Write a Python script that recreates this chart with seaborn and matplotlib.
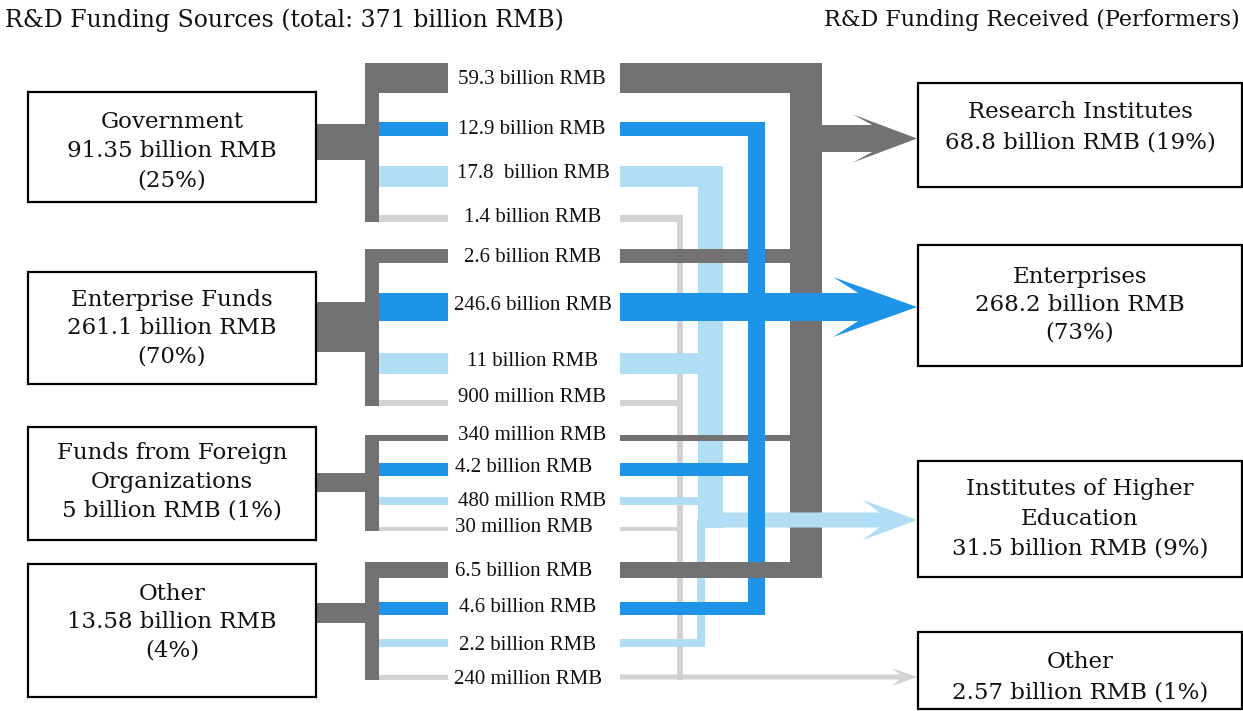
#!/usr/bin/env python3
"""
R&D funding flow diagram: sources (left) -> performers (right)
Drawn in pixel coordinates on a single full-figure axes.
"""

import matplotlib.pyplot as plt
import seaborn as sns
from matplotlib.patches import Rectangle, Polygon

sns.set_theme(style="white")
plt.rcParams['font.family'] = ['DejaVu Serif']

# ---------------------------------------------------------------- data
TITLE_LEFT = 'R&D Funding Sources (total: 371 billion RMB)'
TITLE_RIGHT = 'R&D Funding Received (Performers)'

SOURCE_LINES = [
    ['Government', '91.35 billion RMB', '(25%)'],
    ['Enterprise Funds', '261.1 billion RMB', '(70%)'],
    ['Funds from Foreign', 'Organizations', '5 billion RMB (1%)'],
    ['Other', '13.58 billion RMB', '(4%)'],
]

PERFORMER_LINES = [
    ['Research Institutes', '68.8 billion RMB (19%)'],
    ['Enterprises', '268.2 billion RMB', '(73%)'],
    ['Institutes of Higher', 'Education', '31.5 billion RMB (9%)'],
    ['Other', '2.57 billion RMB (1%)'],
]

# billion RMB, one row per source, columns = performers
FLOW_VALUES = [
    [59.3, 12.9, 17.8, 1.4],
    [2.6, 246.6, 11.0, 0.9],
    [0.34, 4.2, 0.48, 0.03],
    [6.5, 4.6, 2.2, 0.24],
]

FLOW_LABELS = [
    ['59.3 billion RMB', '12.9 billion RMB', '17.8  billion RMB', '1.4 billion RMB'],
    ['2.6 billion RMB', '246.6 billion RMB', '11 billion RMB', '900 million RMB'],
    ['340 million RMB', '4.2 billion RMB', '480 million RMB', '30 million RMB'],
    ['6.5 billion RMB', '4.6 billion RMB', '2.2 billion RMB', '240 million RMB'],
]

# ---------------------------------------------------------------- layout (px)
W, H = 1243, 711
COLORS = ['#727272', '#1e94e9', '#b2def5', '#d3d3d3']  # research, enterprise, higher-ed, other

ROW_Y = [[78, 129, 176, 218], [256, 307, 363, 403], [438, 469, 501, 529], [570, 608, 643, 677]]
ROW_H = [[30, 14, 21, 7], [14, 28, 21, 6], [6, 13, 8, 4], [16, 13, 8, 5]]
LABEL_Y = [[79, 130, 174, 217], [258, 305, 362, 398], [436, 468, 501, 527], [571, 607, 646, 679]]
LABEL_X = [[532, 532, 533, 533], [533, 533, 533, 532], [532, 524, 532, 524], [524, 528, 528, 528]]

CONN_Y = [142, 327, 482, 613]
CONN_H = [36, 50, 19, 20]

SRC_BOX_X = (28, 316)
SRC_BOX_Y = [(92, 202), (272, 384), (427, 540), (564, 697)]
SRC_TEXT_Y = [[122, 151, 180], [300, 328, 356], [453, 482, 511], [594, 622, 651]]

PERF_BOX_X = (918, 1242)
PERF_BOX_Y = [(83, 187), (245, 366), (461, 577), (632, 709)]
PERF_TEXT_Y = [[112, 142], [277, 305, 333], [489, 519, 549], [662, 692]]

BRACKET_X = (365, 379)
CONN_X = (316, 366)
BRANCH_END = 448
FLOW_START = 620
TIP_X = 917

# vertical collectors on the right, (x0, x1)
COLLECT_X = [(790, 822), (748, 765), (698, 723), (677, 683)]
HE_ARROW_Y, HE_ARROW_H = 520, 15
HE_LOWER_X = (697, 705)
RI_ARROW_Y, RI_ARROW_H = 138.5, 27

Z = {0: 3, 1: 4, 2: 2, 3: 1}

BOX_FONT = 16.5
LABEL_FONT = 15
TITLE_FONT_LEFT = 17
TITLE_FONT_RIGHT = 16


def hbar(ax, x0, x1, yc, h, color, z):
    ax.add_patch(Rectangle((x0, yc - h / 2), x1 - x0, h, facecolor=color,
                           edgecolor='none', zorder=z))


def vbar(ax, x0, x1, y0, y1, color, z):
    ax.add_patch(Rectangle((x0, y0), x1 - x0, y1 - y0, facecolor=color,
                           edgecolor='none', zorder=z))


def arrow(ax, x0, yc, h, xb, hw, color, z):
    xn = xb + 0.3 * (TIP_X - xb)
    pts = [(x0, yc - h / 2), (xn, yc - h / 2), (xb, yc - hw), (TIP_X, yc),
           (xb, yc + hw), (xn, yc + h / 2), (x0, yc + h / 2)]
    ax.add_patch(Polygon(pts, closed=True, facecolor=color, edgecolor='none', zorder=z))


def box(ax, x, y, lines, ys):
    ax.add_patch(Rectangle((x[0], y[0]), x[1] - x[0], y[1] - y[0], facecolor='white',
                           edgecolor='black', linewidth=1.6, zorder=6))
    cx = (x[0] + x[1]) / 2
    for line, ty in zip(lines, ys):
        ax.text(cx, ty, line, ha='center', va='center', fontsize=BOX_FONT,
                color='#111111', zorder=7)


def main():
    fig = plt.figure(figsize=(W / 100, H / 100), dpi=100)
    ax = fig.add_axes([0, 0, 1, 1])
    ax.set_xlim(0, W)
    ax.set_ylim(H, 0)
    ax.axis('off')

    # titles
    ax.text(5, 20, TITLE_LEFT, ha='left', va='center', fontsize=TITLE_FONT_LEFT,
            color='#111111')
    ax.text(1240, 20, TITLE_RIGHT, ha='right', va='center', fontsize=TITLE_FONT_RIGHT,
            color='#111111')

    # source boxes and brackets
    for s, lines in enumerate(SOURCE_LINES):
        box(ax, SRC_BOX_X, SRC_BOX_Y[s], lines, SRC_TEXT_Y[s])
        hbar(ax, CONN_X[0], CONN_X[1], CONN_Y[s], CONN_H[s], COLORS[0], 3)
        top = ROW_Y[s][0] - ROW_H[s][0] / 2
        bot = ROW_Y[s][3] + ROW_H[s][3] / 2
        vbar(ax, BRACKET_X[0], BRACKET_X[1], top, bot, COLORS[0], 3)
        for c in range(len(FLOW_VALUES[s])):
            x0 = BRACKET_X[0] if c == 0 else BRACKET_X[1]
            hbar(ax, x0, BRANCH_END, ROW_Y[s][c], ROW_H[s][c], COLORS[c], 3)
            ax.text(LABEL_X[s][c], LABEL_Y[s][c], FLOW_LABELS[s][c], ha='center',
                    va='center', fontsize=LABEL_FONT, family=['Liberation Serif'],
                    color='#111111')

    # right-side collectors
    top = ROW_Y[0][0] - ROW_H[0][0] / 2
    bot = ROW_Y[3][0] + ROW_H[3][0] / 2
    vbar(ax, *COLLECT_X[0], top, bot, COLORS[0], Z[0])
    top = ROW_Y[0][1] - ROW_H[0][1] / 2
    bot = ROW_Y[3][1] + ROW_H[3][1] / 2
    vbar(ax, *COLLECT_X[1], top, bot, COLORS[1], Z[1])
    top = ROW_Y[0][2] - ROW_H[0][2] / 2
    vbar(ax, *COLLECT_X[2], top, HE_ARROW_Y + HE_ARROW_H / 2, COLORS[2], Z[2])
    vbar(ax, *HE_LOWER_X, HE_ARROW_Y, ROW_Y[3][2] + ROW_H[3][2] / 2, COLORS[2], Z[2])
    top = ROW_Y[0][3] - ROW_H[0][3] / 2
    bot = ROW_Y[3][3] + ROW_H[3][3] / 2
    vbar(ax, *COLLECT_X[3], top, bot, COLORS[3], Z[3])

    # flows from labels to collectors
    for s in range(len(FLOW_VALUES)):
        for c in range(len(FLOW_VALUES[s])):
            y, h, col = ROW_Y[s][c], ROW_H[s][c], COLORS[c]
            if (s, c) == (1, 1):
                arrow(ax, FLOW_START, y, h, 833, 30, col, Z[1])
                continue
            if (s, c) == (3, 3):
                arrow(ax, FLOW_START, y, h, 892, 9, col, Z[3])
                continue
            if (s, c) == (3, 2):
                x1 = sum(HE_LOWER_X) / 2
            else:
                x1 = sum(COLLECT_X[c]) / 2
            z = 5 if (s, c) == (3, 0) else Z[c]
            hbar(ax, FLOW_START, x1, y, h, col, z)

    # arrows to research institutes and higher education
    arrow(ax, sum(COLLECT_X[0]) / 2, RI_ARROW_Y, RI_ARROW_H, 853, 24, COLORS[0], Z[0])
    arrow(ax, sum(COLLECT_X[2]) / 2, HE_ARROW_Y, HE_ARROW_H, 863, 20, COLORS[2], 3.5)

    # performer boxes
    for p, lines in enumerate(PERFORMER_LINES):
        box(ax, PERF_BOX_X, PERF_BOX_Y[p], lines, PERF_TEXT_Y[p])

    fig.savefig('out.png', dpi=100, facecolor='white')
    plt.close(fig)


if __name__ == "__main__":
    main()
